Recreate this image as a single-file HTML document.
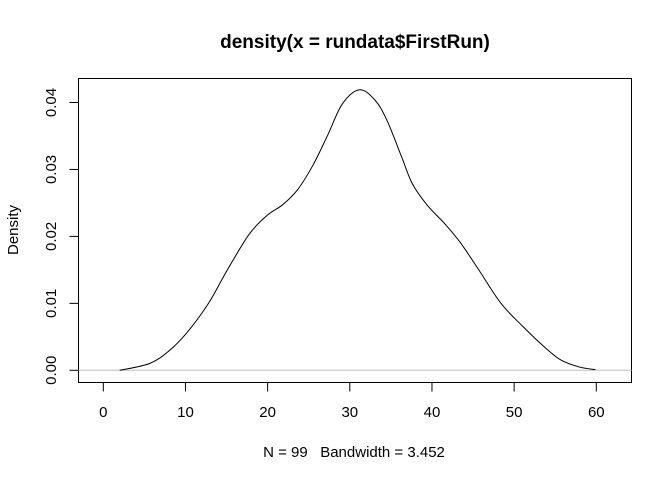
<!DOCTYPE html>
<html><head><meta charset="utf-8"><style>
html,body{margin:0;padding:0;background:#fff;}
svg{display:block;font-family:"Liberation Sans",Arial,sans-serif;}
</style></head><body>
<svg id="chart" width="672" height="480" viewBox="0 0 672 480">
<text x="355" y="48" text-anchor="middle" font-size="19" font-weight="bold">density(x = rundata$FirstRun)</text>
<text x="354" y="457" text-anchor="middle" font-size="15" style="white-space:pre" xml:space="preserve">N = 99   Bandwidth = 3.452</text>
<text transform="translate(18,230) rotate(-90)" text-anchor="middle" font-size="15">Density</text>
<rect x="78.5" y="78.5" width="553" height="304" fill="none" stroke="#000"/>
<g id="xaxis"></g>
<g id="yaxis"></g>
<line id="zero" stroke="#bebebe" stroke-width="1"/>
<path id="curve" fill="none" stroke="#000" stroke-width="1"/>
</svg>
<script>
const xTicks=[0,10,20,30,40,50,60];
const yTicks=[0,0.01,0.02,0.03,0.04];
const yTickLabels=["0.00","0.01","0.02","0.03","0.04"];
const densX=[2.0,5.6,7.9,10.1,12.8,15.1,17.8,20.0,21.8,23.6,25.5,27.3,29.1,31.2,33.1,34.5,36.3,37.6,39.4,41.7,43.5,45.7,48.4,51.1,53.4,55.6,57.9,59.9];
const densY=[0,0.001,0.0028,0.0055,0.010,0.015,0.0204,0.0232,0.0247,0.0269,0.0306,0.0351,0.0398,0.0419,0.0403,0.0374,0.0319,0.0279,0.0247,0.0217,0.019,0.015,0.010,0.0065,0.0038,0.0016,0.0005,0.0001];
const NS='http://www.w3.org/2000/svg';
function sx(v){return 103.3+v*(596.3-103.3)/60;}
function sy(v){return 370.3-v*(370.3-102.5)/0.04;}
function mk(t,a,p){const e=document.createElementNS(NS,t);for(const k in a)e.setAttribute(k,a[k]);p.appendChild(e);return e;}
const xa=document.getElementById('xaxis'),ya=document.getElementById('yaxis');
mk('line',{x1:sx(xTicks[0]),x2:sx(xTicks[xTicks.length-1]),y1:382.5,y2:382.5,stroke:'#000'},xa);
xTicks.forEach(v=>{
 const l=mk('line',{x1:sx(v),x2:sx(v),y1:382.5,y2:391.5,stroke:'#000'},xa);
 
 
 const t=mk('text',{x:sx(v),y:417,'text-anchor':'middle','font-size':15},xa);t.textContent=v;
 
 
});
mk('line',{x1:78.5,x2:78.5,y1:sy(yTicks[0]),y2:sy(yTicks[yTicks.length-1]),stroke:'#000'},ya);
yTicks.forEach((v,i)=>{
 const l=mk('line',{x1:69.5,x2:78.5,y1:sy(v),y2:sy(v),stroke:'#000'},ya);
 
 
 const t=mk('text',{transform:`translate(56,${sy(v)}) rotate(-90)`,'text-anchor':'middle','font-size':15},ya);t.textContent=yTickLabels[i];
 
 
});
const z=document.getElementById('zero');
z.setAttribute('x1',78.5);z.setAttribute('x2',631.5);z.setAttribute('y1',sy(0));z.setAttribute('y2',sy(0));
const pts=densX.map((x,i)=>[sx(x),sy(densY[i])]);
let d='M'+pts[0][0]+','+pts[0][1];
for(let i=0;i<pts.length-1;i++){
 const p0=pts[Math.max(0,i-1)],p1=pts[i],p2=pts[i+1],p3=pts[Math.min(pts.length-1,i+2)];
 const c1=[p1[0]+(p2[0]-p0[0])/6,p1[1]+(p2[1]-p0[1])/6];
 const c2=[p2[0]-(p3[0]-p1[0])/6,p2[1]-(p3[1]-p1[1])/6];
 d+=` C${c1[0]},${c1[1]} ${c2[0]},${c2[1]} ${p2[0]},${p2[1]}`;
}
document.getElementById('curve').setAttribute('d',d);
</script>
</body></html>
